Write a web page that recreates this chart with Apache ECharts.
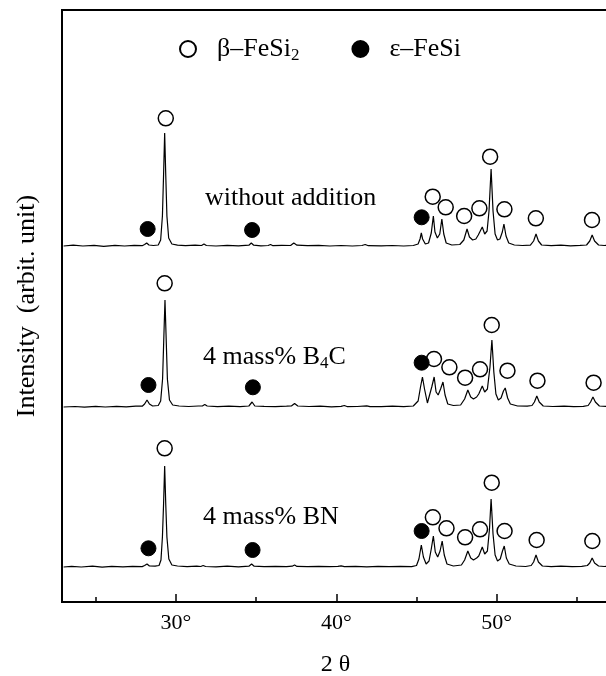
<!DOCTYPE html>
<html><head><meta charset="utf-8">
<script src="https://cdn.jsdelivr.net/npm/echarts@6/dist/echarts.min.js"></script>
<style>html,body{margin:0;padding:0;background:#fff;overflow:hidden}#c{width:606px;height:676px}</style>
</head><body><div id="c"></div>
<script>
// ---- data (heights above each pattern's own baseline, px-like arbitrary units) ----
const xTicks = [30, 40, 50];
const xMinorTicks = [25, 35, 45, 55];
const sampleNames = ['without addition', '4 mass% B4C', '4 mass% BN'];
const offsets = [356, 195, 35];

const traceNone = [[23.0,0],[23.6,0.8],[24.2,0],[24.9,0.6],[25.5,-0.3],[26.2,0.7],[26.8,0],[27.4,0.6],[27.9,0.3],[28.05,1.5],[28.18,3],[28.32,1],[28.6,0.5],[28.9,1],[29.05,6],[29.16,30],[29.23,70],[29.3,113],[29.37,70],[29.44,30],[29.55,8],[29.75,2],[30.1,0.8],[30.6,0.3],[31.2,0.8],[31.6,0.5],[31.75,2],[31.9,0.5],[32.5,0],[33.2,0.6],[33.9,0.2],[34.55,0.8],[34.7,3],[34.85,0.8],[35.3,0.2],[35.75,0.5],[35.9,1.5],[36.05,0.3],[36.6,0.6],[37.15,0.5],[37.35,3],[37.55,0.8],[38.2,0.3],[38.9,0.6],[39.6,0],[40.3,0.5],[41.0,0],[41.6,0.5],[41.8,1.5],[42.0,0.3],[42.8,0.2],[43.5,0.5],[44.2,0],[44.8,0.5],[45.1,2],[45.22,7],[45.3,13],[45.38,7],[45.55,2],[45.75,3],[45.92,13],[46.05,30],[46.15,14],[46.3,8],[46.45,12],[46.58,27],[46.7,12],[46.85,3],[47.2,1],[47.7,1.5],[47.95,6],[48.15,17],[48.3,9],[48.5,6],[48.7,7],[48.85,11],[48.95,9],[49.1,19],[49.25,12],[49.4,15],[49.52,35],[49.65,77],[49.77,35],[49.9,12],[50.05,6],[50.2,7],[50.35,14],[50.45,22],[50.58,10],[50.75,3],[51.1,1],[51.6,0.5],[52.1,0.8],[52.3,5],[52.45,12],[52.6,5],[52.8,1],[53.4,0.3],[54.0,0.8],[54.6,0.2],[55.2,0.6],[55.6,1],[55.8,5],[55.95,11],[56.1,5],[56.35,1],[56.7,0.5],[57,0.6]];

const traceB4C = [[23,0],[23.7,0.5],[24.3,-0.2],[25.0,0.7],[25.6,0],[26.3,0.6],[26.9,0.2],[27.5,0.8],[27.9,0.8],[28.05,3],[28.2,7],[28.35,3],[28.55,1],[28.9,1.5],[29.05,6],[29.17,28],[29.24,65],[29.32,107],[29.4,65],[29.47,28],[29.6,7],[29.8,2],[30.2,1],[30.8,0.5],[31.4,1],[31.65,1],[31.8,2.5],[31.95,1],[32.6,0.3],[33.3,0.8],[34.0,0.3],[34.55,1],[34.75,5],[34.92,1],[35.5,0.6],[36.2,0.4],[36.9,0.8],[37.2,1],[37.4,3.5],[37.6,1],[38.3,0.5],[39.0,0.8],[39.7,0.2],[40.3,0.6],[40.5,1.5],[40.7,0.3],[41.3,0.5],[41.9,1.2],[42.1,0.3],[42.8,0.4],[43.5,0.8],[44.2,0.4],[44.8,1],[45.1,6],[45.25,20],[45.37,30],[45.5,18],[45.68,4],[45.8,6],[45.95,20],[46.1,30],[46.22,15],[46.35,12],[46.5,18],[46.65,25],[46.78,12],[46.95,3],[47.3,1.5],[47.75,2],[48.0,8],[48.2,17],[48.38,10],[48.55,8],[48.75,10],[48.88,13],[48.98,11],[49.1,21],[49.25,15],[49.42,18],[49.58,40],[49.7,67],[49.82,35],[49.95,13],[50.1,7],[50.27,9],[50.42,16],[50.53,19],[50.68,9],[50.85,3],[51.3,1],[51.9,0.8],[52.2,1.5],[52.35,5],[52.5,11],[52.65,5],[52.9,1],[53.5,0.5],[54.2,0.8],[54.8,0.3],[55.4,0.6],[55.7,1.5],[55.85,5],[56.0,10],[56.15,5],[56.4,1],[56.8,0.6],[57,0.5]];

const traceBN = [[23,0],[23.5,0.7],[24.1,0],[24.8,0.8],[25.4,-0.2],[26.0,0.6],[26.7,0.2],[27.3,0.7],[27.9,0.4],[28.05,1.5],[28.2,3],[28.35,1],[28.7,0.8],[28.95,1.5],[29.07,7],[29.16,30],[29.23,62],[29.3,101],[29.37,62],[29.44,30],[29.56,8],[29.75,2],[30.1,1],[30.7,0.4],[31.3,0.8],[31.55,0.5],[31.7,1.5],[31.85,0.5],[32.5,0.2],[33.2,0.8],[33.9,0.2],[34.55,0.8],[34.72,3],[34.88,0.8],[35.5,0.3],[36.2,0.7],[36.9,0.4],[37.25,0.8],[37.4,2],[37.55,0.6],[38.2,0.3],[38.9,0.6],[39.6,0.3],[40.1,0.6],[40.3,1.2],[40.5,0.3],[41.2,0.6],[41.9,0.2],[42.6,0.6],[43.3,0.3],[44.0,0.6],[44.7,0.4],[45.0,1.5],[45.15,8],[45.3,22],[45.43,10],[45.6,3],[45.78,6],[45.92,18],[46.05,31],[46.17,15],[46.32,10],[46.47,16],[46.6,26],[46.73,12],[46.9,3],[47.3,1],[47.8,2],[48.0,7],[48.2,16],[48.38,9],[48.55,7],[48.75,9],[48.88,11],[48.98,10],[49.1,20],[49.25,13],[49.42,16],[49.55,38],[49.65,68],[49.77,33],[49.9,12],[50.05,6],[50.22,8],[50.36,16],[50.47,21],[50.6,9],[50.78,3],[51.2,1],[51.8,0.5],[52.15,1.5],[52.3,5],[52.45,12],[52.6,5],[52.85,1],[53.4,0.4],[54.0,0.8],[54.7,0.3],[55.3,0.7],[55.65,1.5],[55.8,4],[55.95,9],[56.1,4],[56.35,1],[56.7,0.5],[57,0.6]];

// phase markers (absolute positions on the stacked intensity scale)
const betaNone = [[29.37,483.7],[46.01,405.3],[46.82,394.7],[47.97,386],[48.92,393.7],[49.59,445.3],[50.48,392.7],[52.44,383.7],[55.94,382]];
const epsNone  = [[28.24,373],[34.75,372],[45.32,384.7]];
const betaB4C  = [[29.3,318.7],[46.09,243],[47.05,234.7],[48.03,224.3],[48.96,232.7],[49.69,277],[50.67,231.3],[52.54,221.3],[56.04,219.3]];
const epsB4C   = [[28.29,217],[34.8,214.7],[45.32,239.3]];
const betaBN   = [[29.3,153.7],[46.02,84.7],[46.87,73.7],[48.03,64.7],[48.96,72.7],[49.69,119.3],[50.49,71],[52.49,62],[55.96,61]];
const epsBN    = [[28.29,53.7],[34.78,52],[45.32,71]];

const traces = [traceNone, traceB4C, traceBN];
const betaSets = [betaNone, betaB4C, betaBN];
const epsSets = [epsNone, epsB4C, epsBN];

// ---- chart ----
const FONT = '"Liberation Serif", "Times New Roman", serif';
const chart = echarts.init(document.getElementById('c'));
const series = [];
traces.forEach((t, i) => {
  series.push({
    name: sampleNames[i], type: 'line', symbol: 'none', silent: true,
    data: t.map(p => [p[0], p[1] + offsets[i]]),
    lineStyle: { color: '#000', width: 1.2 }, z: 2
  });
});
betaSets.forEach(s => series.push({
  name: 'β–FeSi2', type: 'scatter', symbol: 'circle', symbolSize: 15, data: s,
  itemStyle: { color: '#fff', borderColor: '#000', borderWidth: 1.5, opacity: 1 }, z: 3
}));
epsSets.forEach(s => series.push({
  name: 'ε–FeSi', type: 'scatter', symbol: 'circle', symbolSize: 15, data: s,
  itemStyle: { color: '#000', borderColor: '#000', borderWidth: 1, opacity: 1 }, z: 3
}));

const txt = (size) => ({ fontFamily: FONT, fontSize: size, color: '#000' });

chart.setOption({
  animation: false,
  backgroundColor: '#fff',
  grid: { left: 62, right: -3, top: 10, bottom: 74, show: true, borderColor: '#000', borderWidth: 2,
          containLabel: false, outerBoundsMode: 'none' },
  legend: {
    data: ['β–FeSi2', 'ε–FeSi'], left: 174, top: 31, itemWidth: 16, itemHeight: 16, itemGap: 52,
    formatter: n => n === 'β–FeSi2' ? 'β–FeSi{s|2}' : n,
    textStyle: Object.assign(txt(26), { padding: [0, 0, 0, 16],
      rich: { s: { fontFamily: FONT, fontSize: 17, color: '#000', verticalAlign: 'bottom', padding: [14, 0, 0, 0] } } })
  },
  xAxis: [{
    type: 'value', min: 22.9, max: 57,
    axisLine: { show: true, onZero: false, lineStyle: { color: '#000', width: 2 } },
    axisTick: { show: true, inside: true, length: 8, customValues: xTicks, lineStyle: { color: '#000', width: 1.5 } },
    axisLabel: { customValues: xTicks, formatter: v => v + '°', margin: 10, ...txt(22) },
    splitLine: { show: false },
    name: '2 θ', nameLocation: 'middle', nameGap: 51, nameTextStyle: txt(24)
  }, {
    type: 'value', min: 22.9, max: 57, position: 'bottom',
    axisLine: { show: false },
    axisTick: { show: true, inside: true, length: 5, customValues: xMinorTicks, lineStyle: { color: '#000', width: 1.5 } },
    axisLabel: { show: false }, splitLine: { show: false }
  }],
  yAxis: {
    type: 'value', min: 0, max: 592,
    axisLine: { show: true, lineStyle: { color: '#000', width: 2 } },
    axisTick: { show: false }, axisLabel: { show: false }, splitLine: { show: false },
    name: 'Intensity  (arbit. unit)', nameLocation: 'middle', nameGap: 22, nameRotate: 90,
    nameTextStyle: txt(26)
  },
  graphic: [
    { type: 'text', x: 205, y: 198, style: { text: 'without addition', font: '26px "Liberation Serif"', fill: '#000', verticalAlign: 'middle' } },
    { type: 'text', x: 203, y: 357, style: { text: '4 mass% B{s|4}C', font: '26px "Liberation Serif"', fill: '#000', verticalAlign: 'middle',
        rich: { s: { fontSize: 17, fontFamily: 'Liberation Serif', verticalAlign: 'bottom', padding: [14, 0, 0, 0] } } } },
    { type: 'text', x: 203, y: 517, style: { text: '4 mass% BN', font: '26px "Liberation Serif"', fill: '#000', verticalAlign: 'middle' } }
  ],
  series
});
</script></body></html>
